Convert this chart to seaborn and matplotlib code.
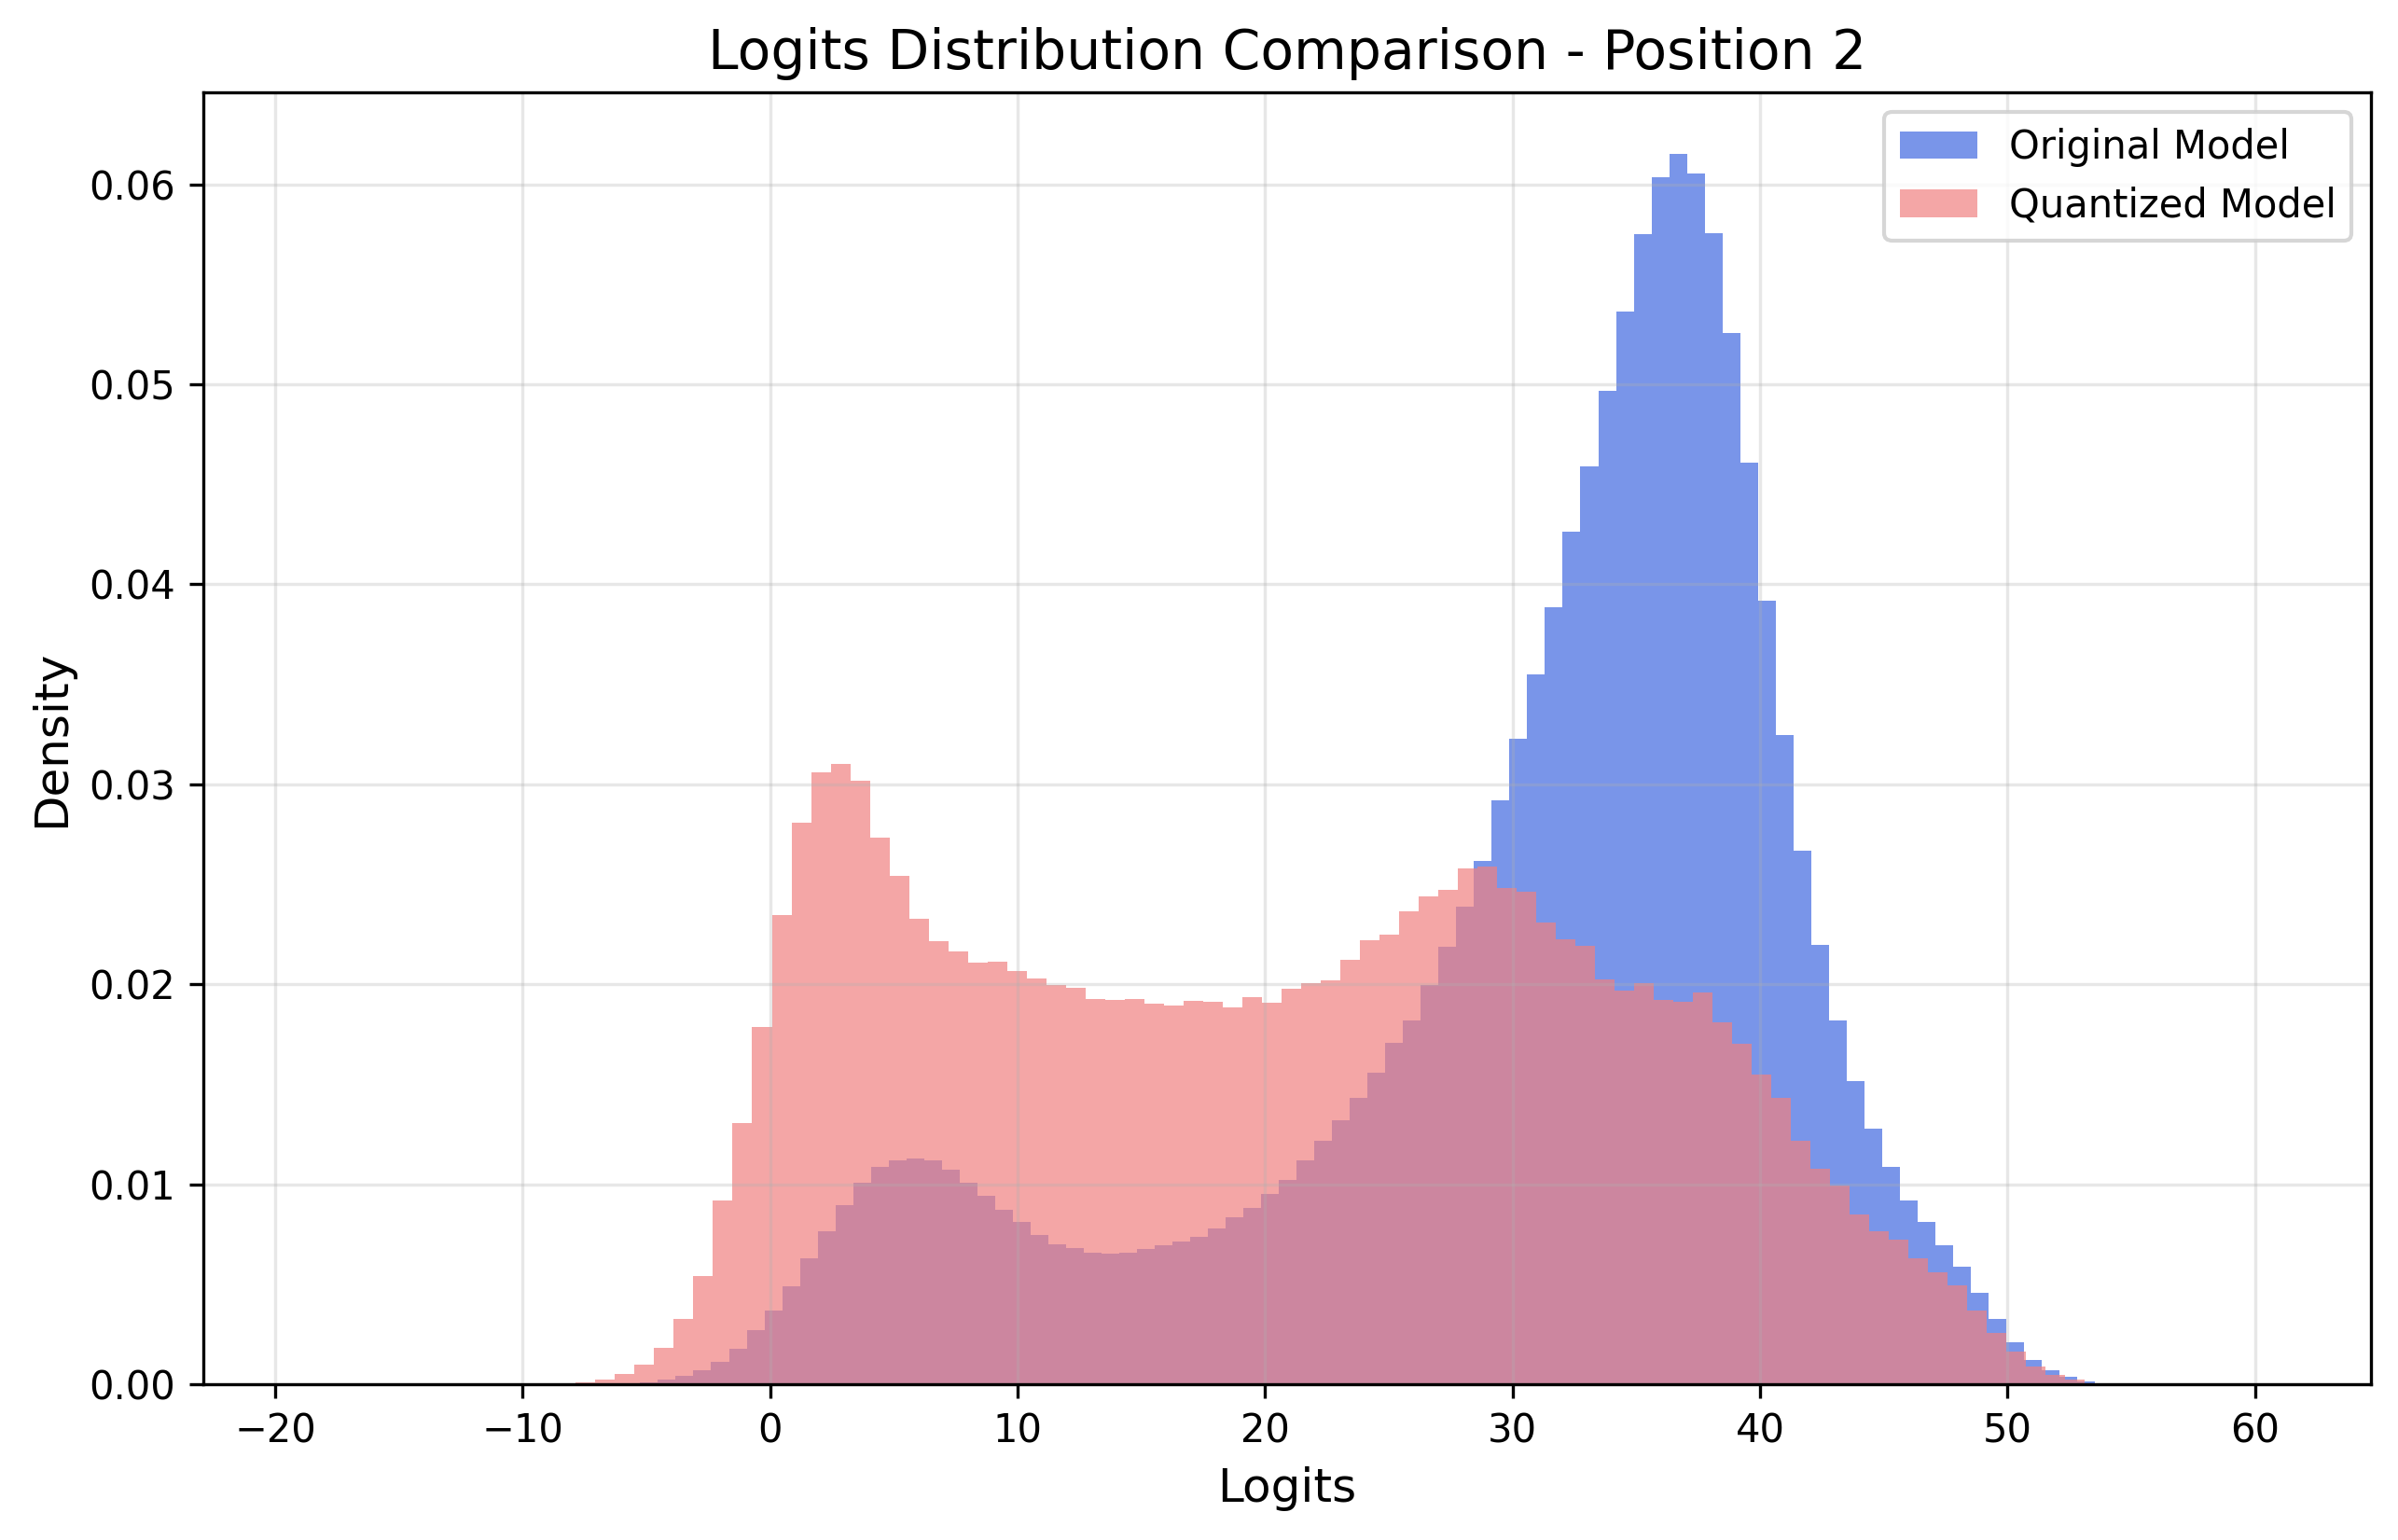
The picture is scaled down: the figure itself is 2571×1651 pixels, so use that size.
import numpy as np
import pandas as pd
import matplotlib
matplotlib.use('Agg')
import matplotlib.pyplot as plt
import seaborn as sns

# Histogram densities (100 bins per model over its own min..max)
labels = ['Original Model', 'Quantized Model']
colors = ['royalblue', 'lightcoral']

orig_range = (-10.985, 60.70)
orig_first_bin = 8
orig_density = [
    0.00008,
    0.00024, 0.00043, 0.00071, 0.00114, 0.00178, 0.00273, 0.00368, 0.00492, 0.00632, 0.00763,
    0.00895, 0.01009, 0.01086, 0.0112, 0.01131, 0.0112, 0.01073, 0.01009, 0.00942, 0.00871,
    0.00811, 0.00746, 0.00699, 0.0068, 0.0066, 0.00652, 0.00656, 0.00675, 0.00695, 0.00712,
    0.00735, 0.00778, 0.00834, 0.00882, 0.0095, 0.01021, 0.0112,
    0.01217, 0.01322, 0.01432, 0.01559, 0.01707, 0.01817, 0.01998, 0.02188, 0.02387, 0.02619,
    0.02919, 0.03228, 0.03549, 0.03887, 0.04263, 0.04588, 0.04968, 0.05365, 0.0575, 0.06033,
    0.06151, 0.06054, 0.05754, 0.05256, 0.04609, 0.03916, 0.03245, 0.0267, 0.02197, 0.01817,
    0.01517, 0.01276, 0.01086, 0.00921, 0.00811, 0.00697, 0.00586,
    0.00459, 0.00328, 0.0021, 0.00121, 0.00069, 0.00036, 0.00013, 0.00003,
]

quant_range = (-18.94, 60.26)
quant_first_bin = 14
quant_density = [
    0.00008, 0.00022, 0.0005, 0.00097,
    0.00183, 0.00325, 0.0054, 0.00918, 0.01308, 0.01785, 0.02346, 0.02806, 0.03062, 0.03101,
    0.03017, 0.02735, 0.02544, 0.02329, 0.02215, 0.02166, 0.02108, 0.02114, 0.02067, 0.02028,
    0.01996, 0.01983, 0.01925, 0.0192, 0.01925, 0.01903, 0.01892, 0.01916, 0.01912, 0.01886,
    0.01935, 0.01908, 0.01976, 0.02005,
    0.0202, 0.02121, 0.02218, 0.02248, 0.02366, 0.02438, 0.02471, 0.02581, 0.0259, 0.0248,
    0.02463, 0.02311, 0.02226, 0.02193, 0.02024, 0.01969, 0.02007, 0.01922, 0.01914, 0.0196,
    0.01812, 0.01703, 0.0155, 0.01432, 0.01217, 0.01077, 0.00993, 0.00849, 0.00765, 0.00722,
    0.00629, 0.00562, 0.00494,
    0.0037, 0.00257, 0.00163, 0.00088, 0.00045, 0.00022, 0.00003,
]

n_bins = 100


def bin_table(lo_hi, first_bin, density):
    edges = np.linspace(lo_hi[0], lo_hi[1], n_bins + 1)
    heights = np.zeros(n_bins)
    heights[first_bin:first_bin + len(density)] = density
    df = pd.DataFrame({'logit': (edges[:-1] + edges[1:]) / 2, 'density': heights})
    return edges.tolist(), df


fig = plt.figure(figsize=(2571 / 300, 1651 / 300), dpi=300)
ax = fig.add_subplot(111)
fig.subplots_adjust(left=0.0846, right=0.9887, top=0.9399, bottom=0.1011)

series = [(orig_range, orig_first_bin, orig_density), (quant_range, quant_first_bin, quant_density)]
for (lo_hi, first_bin, density), label, color in zip(series, labels, colors):
    edges, df = bin_table(lo_hi, first_bin, density)
    sns.histplot(data=df, x='logit', weights='density', bins=edges, stat='count', ax=ax,
                 color=color, alpha=0.7, edgecolor='none', linewidth=0, label=label)

ax.set_title('Logits Distribution Comparison - Position 2', fontsize=14)
ax.set_xlabel('Logits', fontsize=12)
ax.set_ylabel('Density', fontsize=12)
ax.legend(loc='upper right')
ax.grid(True, alpha=0.3)

fig.savefig('out.png', dpi=300)
